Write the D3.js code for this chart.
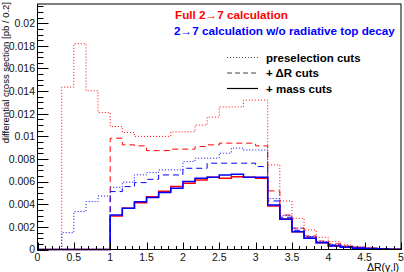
<!DOCTYPE html>
<html>
<head>
<meta charset="utf-8">
<script src="https://cdn.jsdelivr.net/npm/d3@7"></script>
<style>
  html, body { margin: 0; padding: 0; background: #fff; }
  svg { display: block; font-family: "Liberation Sans", Arial, sans-serif; }
</style>
</head>
<body>
<div id="chart"></div>
<script>
(function(){
    // Data: 30 bins of width 1/6 from 0 to 5
    const binCount = 30;
    const xTicks = [0, 0.5, 1, 1.5, 2, 2.5, 3, 3.5, 4, 4.5, 5];
    const yTicks = [0, 0.002, 0.004, 0.006, 0.008, 0.01, 0.012, 0.014, 0.016, 0.018, 0.02];

    // Full 2->7 calculation
    const fullPre = [0, 0, 0.01435, 0.01819, 0.01403, 0.0121, 0.01087, 0.01034, 0.0100, 0.0100,
        0.0100, 0.0104, 0.0104, 0.0110, 0.0117, 0.0126, 0.0126, 0.0132, 0.0132,
        0.00748, 0.00429, 0.00276, 0.00173, 0.00108, 0.00069, 0.0004, 0.00025, 0.00015, 0.0001, 0.00005];
    const fullDR = [0, 0, 0, 0, 0, 0, 0.00984, 0.00925, 0.00916, 0.00874,
        0.00874, 0.00887, 0.00887, 0.0091, 0.00925, 0.0094, 0.0094, 0.0094, 0.00916,
        0.00518, 0.00305, 0.00188, 0.0012, 0.00075, 0.0005, 0.0003, 0.0002, 0.0001, 0.00005, 0];
    const fullMass = [0, 0, 0, 0, 0, 0, 0.00296, 0.00364, 0.00414, 0.00467,
        0.00515, 0.00556, 0.00586, 0.00615, 0.00639, 0.0063, 0.00644, 0.00639, 0.0063,
        0.00385, 0.0027, 0.00158, 0.001, 0.0006, 0.0003, 0.0002, 0.00012, 0.00008, 0.00005, 0.00003];

    // 2->7 calculation w/o radiative top decay
    const woPre = [0, 0, 0.00149, 0.00335, 0.00423, 0.00473, 0.0055, 0.00595, 0.0066, 0.0068,
        0.00704, 0.00704, 0.00777, 0.00807, 0.00807, 0.00851, 0.00896, 0.0088, 0.0088,
        0.0045, 0.0030, 0.0019, 0.00115, 0.0007, 0.00045, 0.0003, 0.0002, 0.0001, 0.00005, 0];
    const woDR = [0, 0, 0, 0, 0, 0, 0.00512, 0.00556, 0.00591, 0.0062,
        0.00659, 0.00659, 0.00718, 0.00718, 0.00763, 0.00763, 0.00763, 0.00763, 0.00733,
        0.00429, 0.00285, 0.0017, 0.0011, 0.00065, 0.0004, 0.00025, 0.00015, 0.0001, 0.00005, 0];
    const woMass = [0, 0, 0, 0, 0, 0, 0.00305, 0.00364, 0.00423, 0.0046,
        0.00503, 0.00542, 0.006, 0.0063, 0.00639, 0.00659, 0.00665, 0.00639, 0.00639,
        0.00394, 0.00267, 0.00158, 0.001, 0.0006, 0.0003, 0.0002, 0.0001, 0.00008, 0.00005, 0.00003];

    const series = [
        { values: fullPre,  color: "#ff0000", dash: "1,2", width: 1 },
        { values: fullDR,   color: "#ff0000", dash: "6,4", width: 1 },
        { values: fullMass, color: "#ff0000", dash: null,  width: 1.5 },
        { values: woPre,    color: "#0000ff", dash: "1,2", width: 1 },
        { values: woDR,     color: "#0000ff", dash: "6,4", width: 1 },
        { values: woMass,   color: "#0000ff", dash: null,  width: 1.5 }
    ];

    const W = 404, H = 272;
    const frame = { left: 37.5, right: 401, top: 4, bottom: 249.5 };

    const svg = d3.select("#chart").append("svg")
        .attr("width", W)
        .attr("height", H);

    const x = d3.scaleLinear().domain([0, 5]).range([frame.left, frame.right]);
    const y = d3.scaleLinear().domain([0, 0.0217]).range([frame.bottom, frame.top]);

    // Histograms
    const line = d3.line()
        .x(d => x(d[0]))
        .y(d => y(d[1]))
        .curve(d3.curveStepAfter);

    series.forEach(s => {
        const pts = s.values.map((v, i) => [i * 5 / binCount, v]);
        pts.push([5, s.values[binCount - 1]]);
        svg.append("path")
            .datum(pts)
            .attr("fill", "none")
            .attr("stroke", s.color)
            .attr("stroke-width", s.width)
            .attr("stroke-dasharray", s.dash)
            .attr("d", line);
    });

    // Axes (ROOT style, ticks inside)
    const yMinor = d3.range(0, 0.0217, 0.0005);
    svg.selectAll(".y-minor")
        .data(yMinor)
        .enter().append("line")
        .attr("x1", frame.left).attr("x2", frame.left + 6)
        .attr("y1", d => Math.round(y(d)) + 0.5).attr("y2", d => Math.round(y(d)) + 0.5)
        .attr("stroke", "#000").attr("stroke-width", 1);
    svg.selectAll(".y-major")
        .data(yTicks)
        .enter().append("line")
        .attr("x1", frame.left).attr("x2", frame.left + 11)
        .attr("y1", d => Math.round(y(d)) + 0.5).attr("y2", d => Math.round(y(d)) + 0.5)
        .attr("stroke", "#000").attr("stroke-width", 1);
    svg.selectAll(".y-label")
        .data(yTicks)
        .enter().append("text")
        .attr("x", frame.left - 2.5)
        .attr("y", d => y(d) + 3.8)
        .attr("text-anchor", "end")
        .style("font-size", "10.5px")
        .attr("fill", "#111")
        .text(d => d3.format("")(+d.toFixed(3)));

    const xMinor = d3.range(0, 5.0001, 0.1);
    svg.selectAll(".x-minor")
        .data(xMinor)
        .enter().append("line")
        .attr("x1", d => Math.round(x(d)) + 0.5).attr("x2", d => Math.round(x(d)) + 0.5)
        .attr("y1", frame.bottom).attr("y2", frame.bottom - 3.5)
        .attr("stroke", "#000").attr("stroke-width", 1);
    svg.selectAll(".x-major")
        .data(xTicks)
        .enter().append("line")
        .attr("x1", d => Math.round(x(d)) + 0.5).attr("x2", d => Math.round(x(d)) + 0.5)
        .attr("y1", frame.bottom).attr("y2", frame.bottom - 7)
        .attr("stroke", "#000").attr("stroke-width", 1);
    svg.selectAll(".x-label")
        .data(xTicks)
        .enter().append("text")
        .attr("x", d => x(d))
        .attr("y", 261)
        .attr("text-anchor", "middle")
        .style("font-size", "10.5px")
        .attr("fill", "#111")
        .text(d => d);

    // Frame
    svg.append("rect")
        .attr("x", frame.left)
        .attr("y", frame.top)
        .attr("width", frame.right - frame.left)
        .attr("height", frame.bottom - frame.top)
        .attr("fill", "none")
        .attr("stroke", "#000")
        .attr("stroke-width", 1);

    // Axis titles
    svg.append("text")
        .attr("x", 399)
        .attr("y", 270.5)
        .attr("text-anchor", "end")
        .style("font-size", "10.5px")
        .text("ΔR(γ,l)");

    svg.append("text")
        .attr("transform", "translate(9,2) rotate(-90)")
        .attr("text-anchor", "end")
        .style("font-size", "9.5px")
        .text("differential cross section [pb / 0.2]");

    // Titles
    svg.append("text")
        .attr("x", 175).attr("y", 18.5)
        .style("font-size", "11.7px").style("font-weight", "bold")
        .attr("fill", "#ff0000")
        .text("Full 2→7 calculation");
    svg.append("text")
        .attr("x", 174).attr("y", 35)
        .style("font-size", "11.7px").style("font-weight", "bold")
        .attr("fill", "#0000ff")
        .text("2→7 calculation w/o radiative top decay");

    // Legend
    const legend = [
        { label: "preselection cuts", dash: "1,2", width: 1, color: "#444" },
        { label: "+ ΔR cuts", dash: "5,3", width: 1, color: "#444" },
        { label: "+ mass cuts", dash: null, width: 1.2, color: "#000" }
    ];
    legend.forEach((d, i) => {
        const ly = 57.5 + i * 15.5;
        svg.append("line")
            .attr("x1", 227).attr("x2", 258)
            .attr("y1", ly).attr("y2", ly)
            .attr("stroke", d.color)
            .attr("stroke-width", d.width)
            .attr("stroke-dasharray", d.dash);
        svg.append("text")
            .attr("x", 266).attr("y", ly + 4)
            .style("font-size", "11.5px").style("font-weight", "bold")
            .text(d.label);
    });
})();
</script>
</body>
</html>
